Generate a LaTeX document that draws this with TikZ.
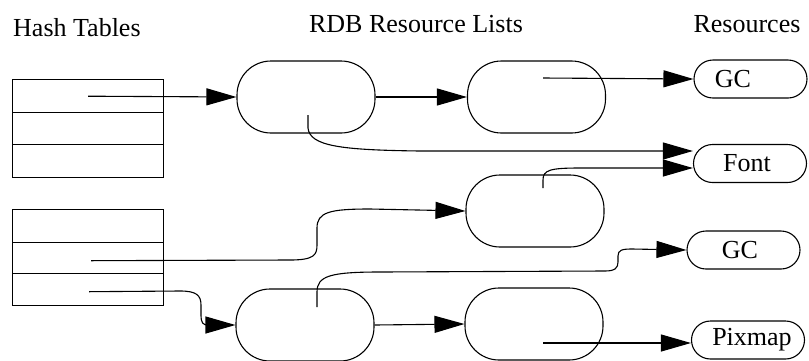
\documentclass[tikz,border=0pt]{standalone}
\usepackage{fontspec}
\setmainfont{Liberation Serif}
\usetikzlibrary{arrows.meta,calc}
\begin{document}
\begin{tikzpicture}[x=1pt,y=-1pt,
  every node/.style={font=\fontsize{26}{30}\selectfont},
  cell/.style={draw,line width=1.4pt,minimum width=151pt,inner sep=0pt,anchor=north west},
  rdb/.style={draw,line width=1.1pt,rounded corners=34pt,minimum width=138pt,minimum height=72pt,inner sep=0pt},
  res/.style={draw,line width=1.1pt,rounded corners=19pt,minimum width=113pt,minimum height=38pt,inner sep=0pt},
  txt/.style={inner sep=0pt},
  arr/.style={line width=1.1pt,-{Triangle[length=30pt,width=17pt]}},
  ln/.style={line width=1.1pt}]
\useasboundingbox (0,0) rectangle (809,360);

% titles
\node[txt,anchor=base west] (t1) at (13,36) {Hash Tables};
\node[txt,anchor=base] (t2) at (416,32) {RDB Resource Lists};
\node[txt,anchor=base] (t3) at (747,32) {Resources};

% hash table 1
\node[cell,minimum height=33pt] (h1a) at (12,79) {};
\node[cell,minimum height=32pt] (h1b) at (12,112) {};
\node[cell,minimum height=33pt] (h1c) at (12,144) {};
% hash table 2
\node[cell,minimum height=33pt] (h2a) at (12,209) {};
\node[cell,minimum height=31pt] (h2b) at (12,242) {};
\node[cell,minimum height=32pt] (h2c) at (12,273) {};

% RDB resource lists
\node[rdb] (o1) at (306,97) {};
\node[rdb] (o2) at (536.5,97) {};
\node[rdb] (o3) at (535,211) {};
\node[rdb] (o4) at (305,325) {};
\node[rdb] (o5) at (534,324) {};

% resources
\node[res] (gc1) at (750.5,79) {};
\node[txt] (gc1t) at (733,79) {GC};
\node[res] (font) at (750,163.5) {};
\node[txt] (fontt) at (747,163.5) {Font};
\node[res] (gc2) at (743.5,250) {};
\node[txt] (gc2t) at (740,250) {GC};
\node[res] (pix) at (748,340) {};
\node[txt] (pixt) at (752,340) {Pixmap};

% coordinates of free ends
\coordinate (s1) at (308,115);
\coordinate (s2) at (543,78);
\coordinate (s3) at (543,188);
\coordinate (s4) at (317,307);
\coordinate (s5) at (543,343);

% connectors
\draw[arr] (h1a.center) -- (o1.west);
\draw[arr] (o1.east) -- (o2.west);
\draw[arr] (s2) -- (gc1.west);
\draw[arr] (s1) -- (308,128) .. controls (310,146) and (340,150) .. (420,151) -- ($(font.west)+(0,-12.5)$);
\draw[arr] (s3) -- (543,180) .. controls (543,170) and (550,168) .. (580,168) -- ($(font.west)+(0,4.5)$);
\draw[arr] ($(h2b.center)+(3,2.5)$) -- (290,260) .. controls (314,260) and (317,255) .. (317,245) -- (317,228) .. controls (317,212) and (330,209) .. (370,209) -- (o3.west);
\draw[arr] (s4) -- (317,292) .. controls (317,276) and (330,272) .. (380,272) -- (605,271) .. controls (615,271) and (618,268) .. (618,262) -- (618,256) .. controls (618,250) and (622,249) .. (632,249) -- (gc2.west);
\draw[arr] ($(h2c.center)+(1,2)$) -- (180,291) .. controls (196,291) and (201,295) .. (201,305) -- (201,315) .. controls (201,323) and (203,325) .. (208,325) -- (o4.west);
\draw[arr] (o4.east) -- (o5.west);
\draw[arr] (s5) -- ($(pix.west)+(0,3)$);
\end{tikzpicture}
\end{document}
